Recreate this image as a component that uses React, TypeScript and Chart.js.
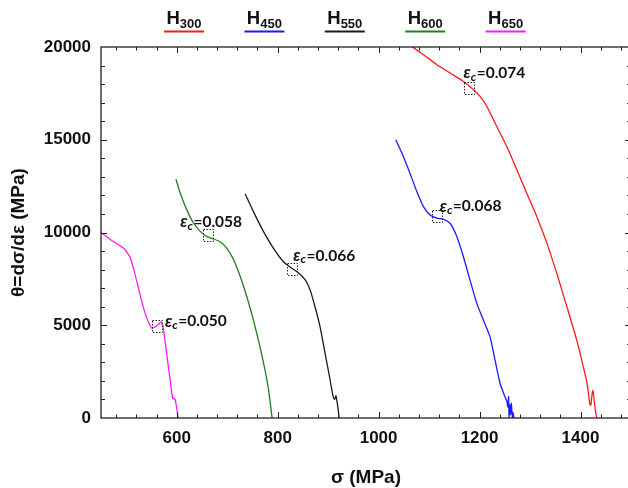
import { useEffect, useRef } from 'react';
import { Chart, registerables } from 'chart.js';

Chart.register(...registerables);

// ---- series (legend order) ----
const seriesLabels = ['300', '450', '550', '600', '650'];
const seriesColors = ['#ff1a1a', '#1a1aff', '#1a1a1a', '#1f7f1f', '#ff1aff'];

const sigma300 = [1058, 1066, 1089, 1115.5, 1141.6, 1168, 1188, 1201, 1214.5, 1234, 1254, 1274, 1293.5, 1313.5, 1333.5, 1353, 1373, 1392.5, 1405.6, 1412, 1416, 1418.5, 1420.5, 1422.5, 1424.5, 1426.5, 1429, 1432];
const theta300 = [20400, 20035, 19585, 19045, 18595, 18145, 17695, 17335, 16795, 15715, 14635, 13375, 12115, 10855, 9415, 7795, 5995, 4195, 2755, 2000, 1300, 750, 700, 1200, 1480, 1100, 500, 0];

const sigma450 = [1034, 1049, 1062, 1075.7, 1088.7, 1102, 1115, 1128, 1141.6, 1155, 1168, 1181, 1194.5, 1207.6, 1220.8, 1230.7, 1240.6, 1250.5, 1254, 1256, 1257.5, 1258.5, 1260, 1261.5, 1263, 1265, 1266.5, 1268];
const theta450 = [15000, 14095, 13200, 12205, 11395, 10945, 10770, 10715, 10500, 9775, 8695, 7435, 6180, 5275, 4375, 3115, 1860, 1135, 900, 600, 1150, 0, 700, 200, 800, 0, 300, 0];

const sigma550 = [735.7, 752, 772, 791.7, 811.5, 828, 841, 855, 864.4, 874, 884, 894, 904, 910, 913, 915.5, 917.5, 920, 921.5];
const theta550 = [12080, 11125, 10045, 9150, 8425, 8070, 7830, 7435, 6895, 5995, 4915, 3475, 2035, 1135, 1000, 1200, 900, 450, 0];

const sigma600 = [598.5, 607, 620, 633.5, 647, 660, 673, 686, 699.5, 713, 726, 739, 752, 765, 775, 782, 789];
const theta600 = [12870, 12120, 11220, 10500, 10045, 9775, 9650, 9500, 9150, 8515, 7615, 6535, 5275, 3835, 2575, 1500, 0];

const sigma650 = [450, 470, 495, 507, 515, 521, 531, 541, 551, 557, 564, 569, 573, 581, 587, 592, 594.5, 597, 599, 603];
const theta650 = [10000, 9600, 9150, 8700, 8000, 7350, 6250, 5370, 4830, 4910, 5060, 5180, 4910, 3290, 2040, 1050, 1060, 980, 700, 0];

const sigmaSeries = [sigma300, sigma450, sigma550, sigma600, sigma650];
const thetaSeries = [theta300, theta450, theta550, theta600, theta650];

// ---- axes ----
const xMin = 450;
const xMax = 1500;
const yMin = 0;
const yMax = 20000;
const xTickValues = [600, 800, 1000, 1200, 1400];
const yTickValues = [0, 5000, 10000, 15000, 20000];
const xMinorStep = 40;
const yMinorStep = 1000;

// ---- critical strain markers ----
const markerSigma = [1180, 1115, 829, 661.5, 560];
const markerTheta = [17800, 10890, 8030, 9865, 4950];
const markerValues = ['0.074', '0.068', '0.066', '0.058', '0.050'];
const markerLabelOffsets = [
  [-6, -15],
  [3, -9.5],
  [1, -13.5],
  [-27.5, -13],
  [8.5, -5],
];

const FONT = "'Liberation Sans', Arial, sans-serif";

const decorPlugin = {
  id: 'decor',
  beforeDraw(chart: any) {
    const c = chart.ctx;
    c.save();
    c.fillStyle = '#ffffff';
    c.fillRect(0, 0, chart.width, chart.height);
    c.restore();
  },
  afterDatasetsDraw(chart: any) {
    const ctx = chart.ctx;
    const { left, right, top, bottom } = chart.chartArea;
    const xs = chart.scales.x;
    const ys = chart.scales.y;
    ctx.save();
    // frame
    ctx.strokeStyle = '#222';
    ctx.lineWidth = 1.3;
    ctx.strokeRect(left, top, right - left, bottom - top);
    // inward ticks
    ctx.beginPath();
    for (let v = Math.ceil(xMin / xMinorStep) * xMinorStep; v <= xMax; v += xMinorStep) {
      const p = Math.round(xs.getPixelForValue(v)) + 0.5;
      const len = xTickValues.includes(v) ? 6 : 3.5;
      ctx.moveTo(p, bottom);
      ctx.lineTo(p, bottom - len);
      ctx.moveTo(p, top);
      ctx.lineTo(p, top + len);
    }
    for (let v = yMin + yMinorStep; v < yMax; v += yMinorStep) {
      const p = Math.round(ys.getPixelForValue(v)) + 0.5;
      const len = yTickValues.includes(v) ? 6 : 4;
      ctx.moveTo(left, p);
      ctx.lineTo(left + len, p);
      ctx.moveTo(right, p);
      ctx.lineTo(right - len, p);
    }
    ctx.lineWidth = 1;
    ctx.stroke();

    // markers
    for (let i = 0; i < markerSigma.length; i++) {
      const px = xs.getPixelForValue(markerSigma[i]);
      const py = ys.getPixelForValue(markerTheta[i]);
      ctx.save();
      ctx.setLineDash([1.5, 1.5]);
      ctx.strokeStyle = '#222';
      ctx.lineWidth = 1;
      ctx.strokeRect(Math.round(px - 5) + 0.5, Math.round(py - 6) + 0.5, 10, 12);
      ctx.restore();

      let tx = px + markerLabelOffsets[i][0];
      const ty = py + markerLabelOffsets[i][1];
      ctx.fillStyle = '#111';
      ctx.textBaseline = 'middle';
      ctx.textAlign = 'left';
      ctx.font = "italic 700 17px Lato, 'Liberation Sans', sans-serif";
      ctx.fillText('ε', tx, ty);
      tx += ctx.measureText('ε').width;
      ctx.font = "italic 700 12px Lato, 'Liberation Sans', sans-serif";
      ctx.fillText('c', tx, ty + 4);
      tx += ctx.measureText('c').width + 0.5;
      ctx.font = "700 15.5px Lato, 'Liberation Sans', sans-serif";
      ctx.fillText('=' + markerValues[i], tx, ty);
    }
    ctx.restore();
  },
  afterDraw(chart: any) {
    const ctx = chart.ctx;
    ctx.save();
    const startX = 164;
    const step = 80.4;
    const lineW = 40;
    for (let i = 0; i < seriesLabels.length; i++) {
      const lx = startX + i * step;
      const cx = lx + lineW / 2;
      ctx.font = `700 18.5px ${FONT}`;
      const wH = ctx.measureText('H').width;
      ctx.font = `700 13px ${FONT}`;
      const wS = ctx.measureText(seriesLabels[i]).width;
      const sx = cx - (wH + wS) / 2;
      ctx.fillStyle = '#111';
      ctx.textAlign = 'left';
      ctx.textBaseline = 'alphabetic';
      ctx.font = `700 18.5px ${FONT}`;
      ctx.fillText('H', sx, 23.5);
      ctx.font = `700 13px ${FONT}`;
      ctx.fillText(seriesLabels[i], sx + wH, 27.5);
      ctx.strokeStyle = seriesColors[i];
      ctx.lineWidth = 2;
      ctx.beginPath();
      ctx.moveTo(lx, 31.5);
      ctx.lineTo(lx + lineW, 31.5);
      ctx.stroke();
    }
    ctx.restore();
  },
};

export default function App() {
  const ref = useRef<HTMLCanvasElement>(null);
  useEffect(() => {
    document.documentElement.style.overflow = 'hidden';
    document.body.style.overflow = 'hidden';
    const datasets = seriesLabels.map((lab, i) => ({
      label: 'H' + lab,
      data: sigmaSeries[i].map((x, j) => ({ x, y: thetaSeries[i][j] })),
      borderColor: seriesColors[i],
      backgroundColor: seriesColors[i],
      borderWidth: 1.3,
      pointRadius: 0,
      tension: 0.18,
      fill: false,
    }));
    const chart = new Chart(ref.current as HTMLCanvasElement, {
      type: 'line',
      data: { datasets },
      plugins: [decorPlugin],
      options: {
        animation: false,
        responsive: false,
        devicePixelRatio: 1,
        layout: { padding: { top: 47, right: 9, left: 0, bottom: 0 } },
        plugins: {
          legend: { display: false },
          tooltip: { enabled: false },
        },
        scales: {
          x: {
            type: 'linear',
            min: xMin,
            max: xMax,
            afterBuildTicks: (s: any) => {
              s.ticks = xTickValues.map((v) => ({ value: v }));
            },
            afterFit: (s: any) => {
              s.height = 82;
            },
            grid: { display: false, drawTicks: false },
            border: { display: false },
            ticks: {
              padding: 10.5,
              maxRotation: 0,
              autoSkip: false,
              color: '#111',
              callback: (v: any) => String(v),
              font: { family: FONT, size: 17, weight: 'bold' },
            },
            title: {
              display: true,
              text: 'σ (MPa)',
              color: '#111',
              font: { family: FONT, size: 19, weight: 'bold' },
              padding: { top: 0, bottom: 10.6 },
            },
          },
          y: {
            type: 'linear',
            min: yMin,
            max: yMax,
            afterBuildTicks: (s: any) => {
              s.ticks = yTickValues.map((v) => ({ value: v }));
            },
            afterFit: (s: any) => {
              s.width = 101;
            },
            grid: { display: false, drawTicks: false },
            border: { display: false },
            ticks: {
              padding: 10,
              autoSkip: false,
              color: '#111',
              callback: (v: any) => String(v),
              font: { family: FONT, size: 17, weight: 'bold' },
            },
            title: {
              display: true,
              text: 'θ=dσ/dε (MPa)',
              color: '#111',
              font: { family: FONT, size: 19, weight: 'bold' },
              padding: { top: 7, bottom: 0 },
            },
          },
        },
      } as any,
    });
    return () => chart.destroy();
  }, []);
  return (
    <div style={{ position: 'fixed', left: 0, top: 0, width: 640, height: 500 }}>
      <canvas ref={ref} width={640} height={500} style={{ display: 'block', width: 640, height: 500 }} />
    </div>
  );
}
